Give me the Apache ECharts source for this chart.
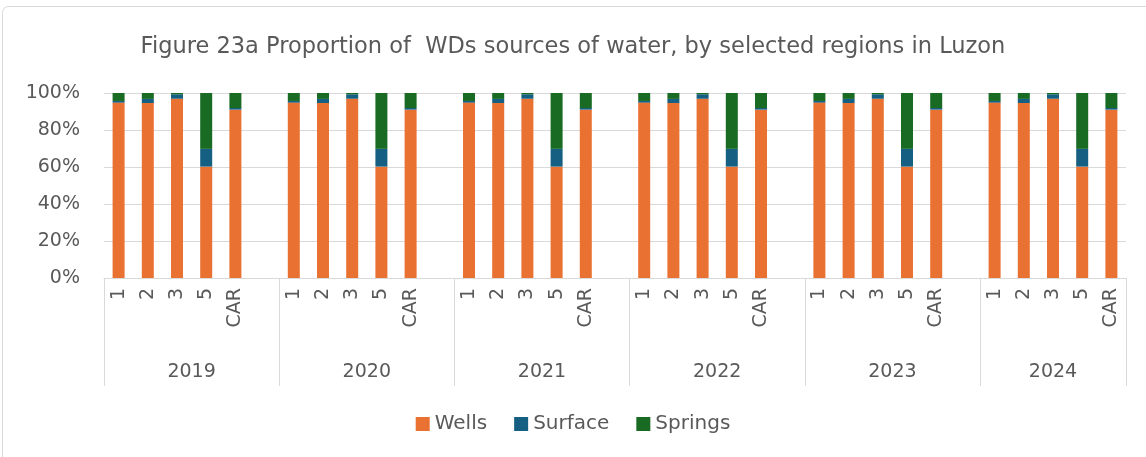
<!DOCTYPE html>
<html>
<head>
<meta charset="utf-8">
<script src="https://cdn.jsdelivr.net/npm/echarts@6/dist/echarts.min.js"></script>
<style>
  html, body { margin: 0; padding: 0; background: #fff; }
  #chart { width: 1146px; height: 457px; }
</style>
</head>
<body>
<div id="chart"></div>
<script>
  // data (share of each source, %)
  const years = ['2019', '2020', '2021', '2022', '2023', '2024'];
  const regions = ['1', '2', '3', '5', 'CAR'];
  const wells = [94.8, 94.6, 96.9, 60.2, 91.0];
  const surface = [0.9, 2.2, 2.4, 9.6, 0.9];
  const springs = [4.3, 3.2, 0.7, 30.2, 8.1];

  const textColor = '#595959';
  const lineColor = '#d9d9d9';
  const font = '"DejaVu Sans", "Liberation Sans", sans-serif';

  // one slot per region, with an empty slot between years
  let cats = [];
  let wData = [], sData = [], gData = [];
  let bounds = [0], centers = [];
  years.forEach((y, yi) => {
    let start = cats.length;
    regions.forEach((r, ri) => {
      cats.push(r);
      wData.push(wells[ri]);
      sData.push(surface[ri]);
      gData.push(springs[ri]);
    });
    if (yi < years.length - 1) {
      cats.push('');
      wData.push(null); sData.push(null); gData.push(null);
    }
    bounds.push(cats.length);
    centers.push((start + cats.length) / 2);
  });

  let chart = echarts.init(document.getElementById('chart'));
  let option = {
    animation: false,
    textStyle: { fontFamily: font },
    title: {
      text: 'Figure 23a Proportion of  WDs sources of water, by selected regions in Luzon',
      left: 'center',
      top: 31,
      textStyle: { color: textColor, fontSize: 22.5, fontWeight: 'normal', fontFamily: font }
    },
    graphic: [{
      type: 'rect',
      shape: { x: 2.5, y: 6.5, width: 1160, height: 470, r: 6 },
      style: { fill: 'none', stroke: lineColor, lineWidth: 1 },
      silent: true
    }],
    legend: {
      bottom: 18,
      left: 'center',
      itemWidth: 14,
      itemHeight: 14,
      itemGap: 27,
      icon: 'rect',
      textStyle: { color: textColor, fontSize: 20 },
      data: ['Wells', 'Surface', 'Springs']
    },
    grid: { left: 104, right: 20, top: 93, bottom: 179 },
    xAxis: [
      {
        type: 'category',
        data: cats,
        position: 'bottom',
        axisLine: { lineStyle: { color: lineColor } },
        axisTick: { show: false },
        axisLabel: {
          interval: 0,
          rotate: 90,
          margin: 10,
          color: textColor,
          fontSize: 19
        }
      },
      {
        type: 'value',
        min: 0,
        max: cats.length,
        position: 'bottom',
        offset: 0,
        axisLine: { show: false },
        splitLine: { show: false },
        axisTick: {
          show: true,
          customValues: bounds,
          length: 108,
          lineStyle: { color: lineColor }
        },
        axisLabel: {
          customValues: centers,
          margin: 85,
          color: textColor,
          fontSize: 19,
          formatter: function (v) {
            let i = centers.indexOf(v);
            return i >= 0 ? years[i] : '';
          }
        }
      }
    ],
    yAxis: {
      type: 'value',
      min: 0,
      max: 100,
      interval: 20,
      axisLine: { show: false },
      axisTick: { show: false },
      splitLine: { lineStyle: { color: lineColor } },
      axisLabel: {
        color: textColor,
        fontSize: 19,
        margin: 24,
        formatter: '{value}%'
      }
    },
    series: [
      { name: 'Wells', type: 'bar', stack: 'src', barWidth: 12, data: wData, itemStyle: { color: '#E97132' } },
      { name: 'Surface', type: 'bar', stack: 'src', barWidth: 12, data: sData, itemStyle: { color: '#156082' } },
      { name: 'Springs', type: 'bar', stack: 'src', barWidth: 12, data: gData, itemStyle: { color: '#196B24' } }
    ]
  };
  chart.setOption(option);
</script>
</body>
</html>
